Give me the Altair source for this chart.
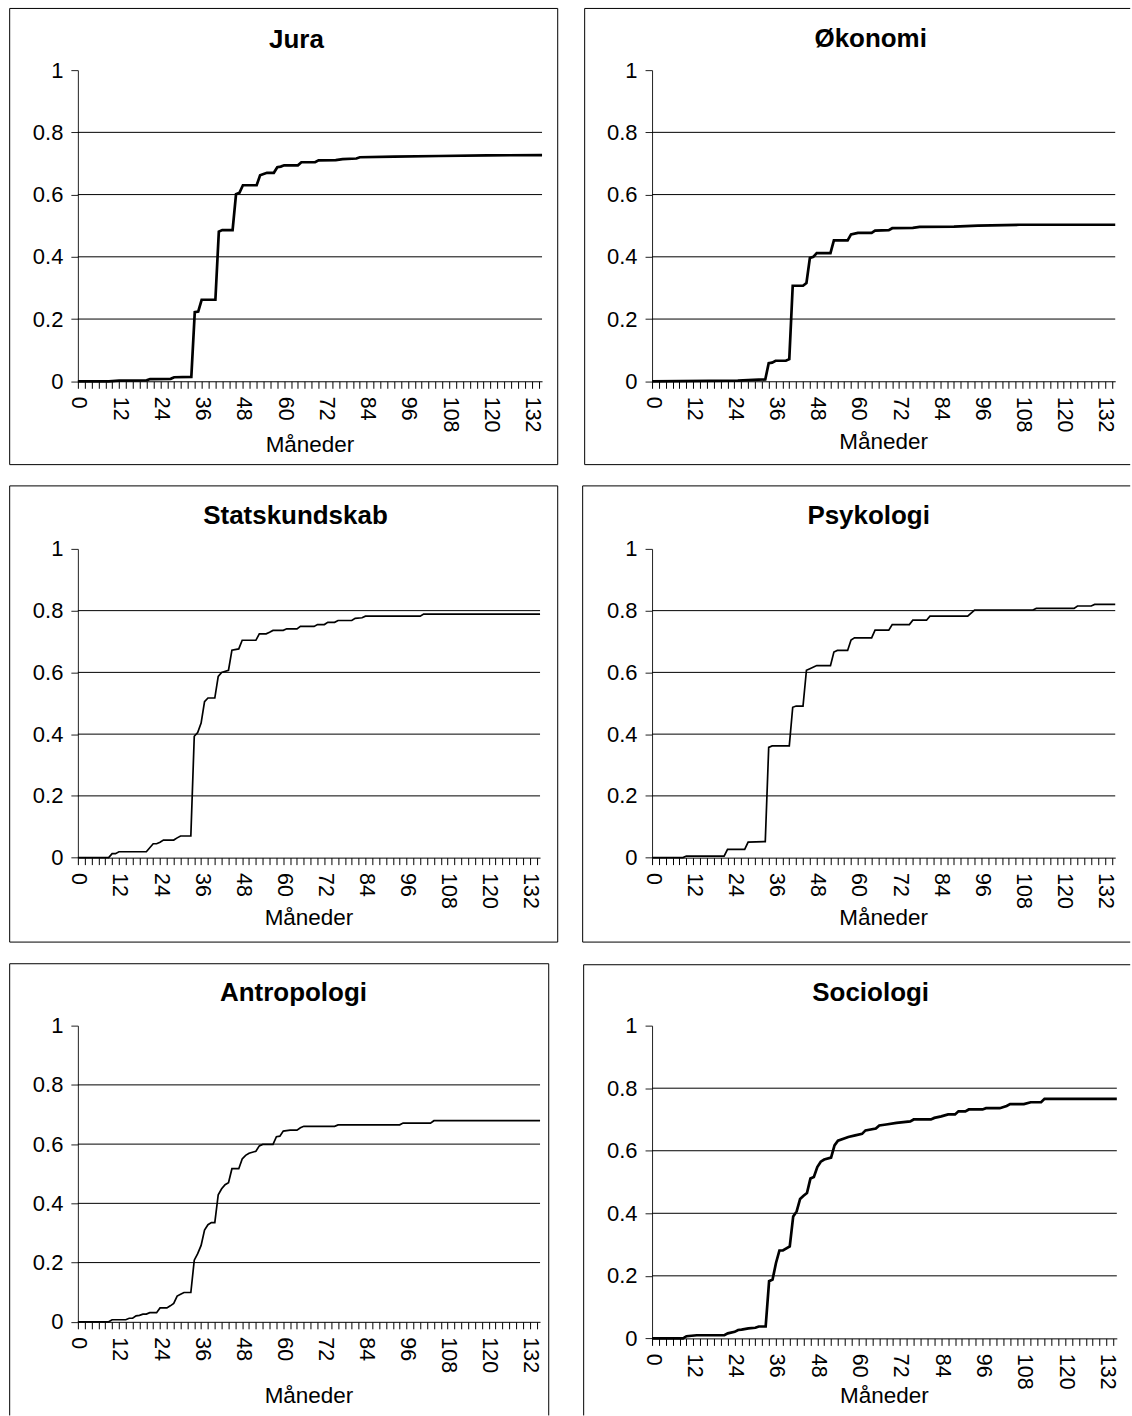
import altair as alt
import pandas as pd

FONT = "Liberation Sans"
MONTH_END = 135
X_TICKS = list(range(0, 135, 2))
Y_TICKS = [0, 0.2, 0.4, 0.6, 0.8, 1]
GRID_LEVELS = [0.2, 0.4, 0.6, 0.8]
AXIS_TITLE = "Måneder"

# (month, cumulative share) vertices
JURA = [(0, 0), (9, 0), (12, 0.002), (20, 0.003), (21, 0.007), (27, 0.008), (28, 0.013), (33, 0.014),
        (34, 0.222), (35, 0.224), (36, 0.262), (40, 0.262), (41, 0.481), (42, 0.486), (45, 0.486),
        (46, 0.601), (47, 0.606), (48, 0.63), (52, 0.63), (53, 0.662), (54, 0.666), (55, 0.67),
        (57, 0.67), (58, 0.688), (59, 0.69), (60, 0.694), (64, 0.694), (65, 0.704), (69, 0.704),
        (70, 0.71), (75, 0.711), (77, 0.714), (81, 0.716), (82, 0.72), (92, 0.722), (105, 0.724),
        (119, 0.726), (135, 0.727)]

OKONOMI = [(0, 0), (25, 0.002), (28, 0.004), (33, 0.006), (34, 0.058), (35, 0.06), (36, 0.066),
           (39, 0.066), (40, 0.071), (41, 0.307), (44, 0.307), (45, 0.316), (46, 0.396), (47, 0.4),
           (48, 0.412), (52, 0.412), (53, 0.453), (57, 0.453), (58, 0.472), (60, 0.477), (64, 0.477),
           (65, 0.484), (69, 0.486), (70, 0.492), (76, 0.493), (78, 0.496), (88, 0.497), (95, 0.5),
           (107, 0.503), (135, 0.503)]

STATSKUNDSKAB = [(0, 0), (9, 0), (10, 0.013), (11, 0.013), (12, 0.019), (20, 0.019), (22, 0.045),
                 (23, 0.045), (24, 0.05), (25, 0.057), (28, 0.057), (29, 0.064), (30, 0.07), (33, 0.07),
                 (34, 0.393), (35, 0.405), (36, 0.436), (37, 0.505), (38, 0.517), (40, 0.517),
                 (41, 0.587), (42, 0.6), (44, 0.607), (45, 0.672), (47, 0.676), (48, 0.704), (52, 0.704),
                 (53, 0.725), (55, 0.725), (56, 0.73), (57, 0.736), (60, 0.736), (61, 0.741), (64, 0.741),
                 (65, 0.749), (69, 0.749), (70, 0.755), (72, 0.755), (73, 0.762), (75, 0.762),
                 (76, 0.768), (80, 0.768), (81, 0.775), (83, 0.777), (84, 0.782), (100, 0.782),
                 (101, 0.789), (135, 0.789)]

PSYKOLOGI = [(0, 0), (9, 0), (10, 0.005), (21, 0.005), (22, 0.027), (27, 0.027), (28, 0.05), (33, 0.052),
             (34, 0.357), (35, 0.362), (40, 0.362), (41, 0.487), (42, 0.491), (44, 0.491), (45, 0.607),
             (46, 0.612), (48, 0.622), (52, 0.622), (53, 0.666), (54, 0.671), (57, 0.671), (58, 0.705),
             (59, 0.712), (64, 0.712), (65, 0.737), (69, 0.737), (70, 0.755), (75, 0.755), (76, 0.769),
             (80, 0.769), (81, 0.782), (92, 0.782), (94, 0.802), (111, 0.802), (112, 0.807),
             (123, 0.807), (124, 0.815), (128, 0.815), (129, 0.82), (135, 0.82)]

ANTROPOLOGI = [(0, 0), (9, 0), (10, 0.007), (14, 0.007), (15, 0.012), (16, 0.012), (17, 0.02), (18, 0.022),
               (19, 0.026), (20, 0.026), (21, 0.031), (23, 0.031), (24, 0.047), (26, 0.047), (27, 0.054),
               (28, 0.062), (29, 0.087), (30, 0.093), (31, 0.099), (33, 0.099), (34, 0.208), (35, 0.23),
               (36, 0.258), (37, 0.31), (38, 0.328), (39, 0.335), (40, 0.335), (41, 0.429), (42, 0.449),
               (43, 0.463), (44, 0.47), (45, 0.517), (47, 0.517), (48, 0.55), (49, 0.562), (50, 0.569),
               (52, 0.576), (53, 0.594), (54, 0.599), (57, 0.599), (58, 0.625), (59, 0.627), (60, 0.644),
               (62, 0.647), (64, 0.647), (65, 0.655), (66, 0.66), (75, 0.66), (76, 0.665), (94, 0.665),
               (95, 0.671), (103, 0.671), (104, 0.679), (135, 0.679)]

SOCIOLOGI = [(0, 0), (9, 0), (10, 0.007), (13, 0.01), (21, 0.01), (22, 0.016), (24, 0.021), (25, 0.027),
             (26, 0.028), (28, 0.032), (30, 0.034), (31, 0.038), (33, 0.038), (34, 0.183), (35, 0.188),
             (36, 0.241), (37, 0.281), (38, 0.281), (40, 0.294), (41, 0.39), (42, 0.406), (43, 0.446),
             (44, 0.456), (45, 0.465), (46, 0.511), (47, 0.516), (48, 0.548), (49, 0.565), (50, 0.572),
             (52, 0.578), (53, 0.617), (54, 0.632), (56, 0.64), (57, 0.644), (59, 0.649), (61, 0.654),
             (62, 0.665), (65, 0.671), (66, 0.681), (68, 0.684), (71, 0.689), (75, 0.694), (76, 0.7),
             (81, 0.7), (82, 0.705), (84, 0.71), (86, 0.716), (88, 0.716), (89, 0.726), (91, 0.726),
             (92, 0.732), (96, 0.732), (97, 0.736), (101, 0.736), (103, 0.743), (104, 0.749),
             (108, 0.749), (110, 0.755), (113, 0.755), (114, 0.766), (135, 0.766)]

PANELS = [
    dict(title="Jura", data=JURA, w=465, h=311.7, lw=2.7, fl=-68.3, fr=480.7, ft=-61.8, fb=395.2,
         sides="tlrb", tx=219, ty=-22.6, ay=70.7),
    dict(title="Økonomi", data=OKONOMI, w=464, h=311.7, lw=2.7, fl=-67.5, fr=479, ft=-61.8, fb=395.2,
         sides="tlb", tx=219, ty=-23, ay=68),
    dict(title="Statskundskab", data=STATSKUNDSKAB, w=463, h=309.3, lw=1.7, fl=-68.3, fr=480.7, ft=-63.1,
         fb=393.9, sides="tlrb", tx=218, ty=-25.3, ay=67.8),
    dict(title="Psykologi", data=PSYKOLOGI, w=464, h=309.3, lw=1.7, fl=-69.5, fr=479, ft=-63.1, fb=393.9,
         sides="tlb", tx=217, ty=-25.3, ay=67.8),
    dict(title="Antropologi", data=ANTROPOLOGI, w=463, h=296.7, lw=1.7, fl=-68.3, fr=471.7, ft=-62,
         fb=390.5, sides="tlr", tx=216, ty=-24.5, ay=81.8),
    dict(title="Sociologi", data=SOCIOLOGI, w=465.6, h=313.3, lw=2.7, fl=-68.5, fr=479, ft=-61,
         fb=390.5, sides="tl", tx=219, ty=-24.5, ay=65.2),
]

ONE = pd.DataFrame({"k": [0]})


def hrule(x1, x2, y):
    return alt.Chart(ONE).mark_rule(color="black", strokeWidth=1).encode(
        x=alt.value(x1), x2=alt.value(x2), y=alt.value(y))


def vrule(x, y1, y2):
    return alt.Chart(ONE).mark_rule(color="black", strokeWidth=1).encode(
        x=alt.value(x), y=alt.value(y1), y2=alt.value(y2))


def y_axis():
    return alt.Axis(values=Y_TICKS, format="~g", grid=False, tickSize=7, tickColor="#222",
                    domainColor="#222", labelPadding=8, labelFontSize=22, labelFont=FONT,
                    labelColor="black", title=None)


def panel(p):
    df = pd.DataFrame(p["data"], columns=["m", "v"])
    xscale = alt.Scale(domain=[0, MONTH_END], nice=False, zero=False)
    yscale = alt.Scale(domain=[0, 1], nice=False)

    layers = []
    s = p["sides"]
    if "t" in s:
        layers.append(hrule(p["fl"], p["fr"], p["ft"]))
    if "b" in s:
        layers.append(hrule(p["fl"], p["fr"], p["fb"]))
    if "l" in s:
        layers.append(vrule(p["fl"], p["ft"], p["fb"]))
    if "r" in s:
        layers.append(vrule(p["fr"], p["ft"], p["fb"]))

    grid = alt.Chart(pd.DataFrame({"g": GRID_LEVELS})).mark_rule(
        color="black", strokeWidth=1).encode(
        y=alt.Y("g:Q", scale=yscale, axis=y_axis()),
        x=alt.value(0), x2=alt.value(p["w"]))
    layers.append(grid)

    title = alt.Chart(ONE).mark_text(
        text=p["title"], font=FONT, fontSize=26, fontWeight="bold",
        align="center", baseline="alphabetic", color="black").encode(
        x=alt.value(p["tx"]), y=alt.value(p["ty"]))
    layers.append(title)

    xtitle = alt.Chart(ONE).mark_text(
        text=AXIS_TITLE, font=FONT, fontSize=22.5,
        align="center", baseline="alphabetic", color="black").encode(
        x=alt.value(p["w"] / 2), y=alt.value(p["h"] + p["ay"]))
    layers.append(xtitle)

    line = alt.Chart(df).mark_line(color="black", strokeWidth=p["lw"], interpolate="linear").encode(
        x=alt.X("m:Q", scale=xscale, axis=alt.Axis(
            values=X_TICKS,
            labelExpr="datum.value % 12 === 0 ? datum.label : ''",
            labelAngle=90, labelFlush=False, labelOverlap=False, labelPadding=8,
            labelFontSize=21.5, labelFont=FONT, labelColor="black",
            tickSize=7, tickColor="black", domainColor="black", grid=False,
            title=None)),
        y=alt.Y("v:Q", scale=yscale, axis=y_axis()),
    )
    layers.append(line)

    return alt.layer(*layers).properties(width=p["w"], height=p["h"])


chart = alt.concat(
    *[panel(p) for p in PANELS],
    columns=2,
    spacing={"row": 167.6, "column": 110.2},
    bounds="flush",
    align="each",
).properties(
    padding={"left": 8, "top": 6, "right": 0, "bottom": 0},
    background="white",
).configure_view(stroke="transparent")

chart.save("out.html", embed_options={"renderer": "svg", "actions": False})
